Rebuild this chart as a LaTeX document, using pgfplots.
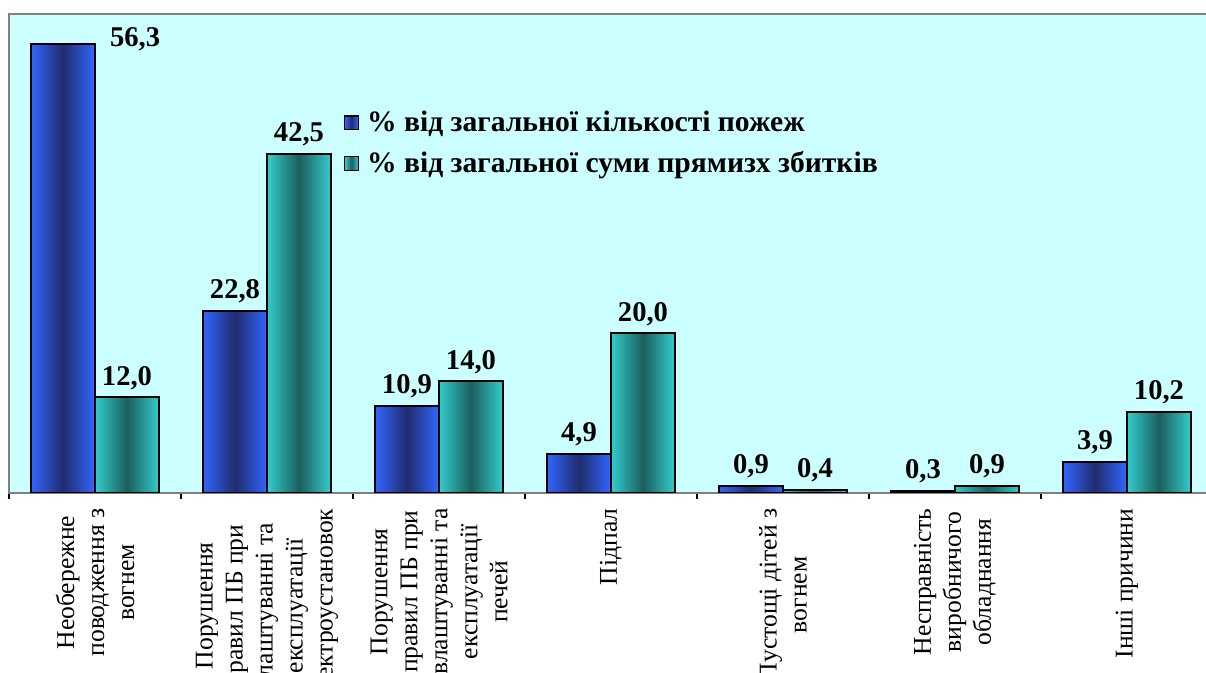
\documentclass[border=0pt]{standalone}
\usepackage{fontspec}
\setmainfont{Liberation Serif}
\usepackage{pgfplots}
\pgfplotsset{compat=1.18}
\definecolor{bg}{HTML}{CCFFFF}
\definecolor{bblue}{HTML}{3366FF}
\definecolor{bdark}{HTML}{1F2C6E}
\definecolor{tteal}{HTML}{33CCCC}
\definecolor{tdark}{HTML}{1C5F5E}
\pgfplotsset{
  bluebar/.style={forget plot, draw=black, line width=1pt, left color=bblue, right color=bblue, middle color=bdark, bar shift=-16pt},
  tealbar/.style={forget plot, draw=black, line width=1pt, left color=tteal, right color=tteal, middle color=tdark, bar shift=16pt},
}
\begin{document}
\begin{tikzpicture}
\useasboundingbox (0,0) rectangle (603pt,336.5pt);
\begin{axis}[
  at={(4.5pt,90pt)}, anchor=south west,
  scale only axis, width=602pt, height=239.5pt,
  xmin=-0.5, xmax=6.5, ymin=0, ymax=60,
  axis background/.style={fill=bg},
  axis line style={draw=gray, line width=1pt},
  ybar, bar width=32pt,
  ytick=\empty,
  xtick={0,...,6},
  major x tick style={draw=none},
  minor xtick={-0.5,0.5,...,6.5},
  minor x tick style={black, line width=0.6pt},
  minor tick length=3pt,
  tick align=outside, xtick pos=bottom,
  xticklabels={{Необережне\\поводження з\\вогнем},
    {Порушення\\правил ПБ при\\влаштуванні та\\експлуатації\\електроустановок},
    {Порушення\\правил ПБ при\\влаштуванні та\\експлуатації\\печей},
    {Підпал},
    {Пустощі дітей з\\вогнем},
    {Несправність\\виробничого\\обладнання},
    {Інші причини}},
  x tick label style={rotate=90, anchor=east, align=center,
    font=\fontsize{12.8pt}{15pt}\selectfont},
  point meta=y,
  nodes near coords={\pgfmathprintnumber[fixed,fixed zerofill,precision=1,use comma,assume math mode=true]{\pgfplotspointmeta}},
  every node near coord/.append style={font=\fontsize{14.3pt}{17pt}\selectfont\bfseries, black},
  legend style={draw=none, fill=none, at={(axis description cs:0.273,0.815)}, anchor=north west,
    font=\fontsize{14.8pt}{17pt}\selectfont\bfseries, row sep=4.5pt},
  legend cell align=left,
]
% % of fires
\addplot[bluebar, nodes near coords=] coordinates {(0,56.3)};
\addplot[bluebar] coordinates {(1,22.8)};
\addplot[bluebar] coordinates {(2,10.9)};
\addplot[bluebar] coordinates {(3,4.9)};
\addplot[bluebar] coordinates {(4,0.9)};
\addplot[bluebar] coordinates {(5,0.3)};
\addplot[bluebar] coordinates {(6,3.9)};
% % of direct losses
\addplot[tealbar] coordinates {(0,12.0)};
\addplot[tealbar] coordinates {(1,42.5)};
\addplot[tealbar] coordinates {(2,14.0)};
\addplot[tealbar] coordinates {(3,20.0)};
\addplot[tealbar] coordinates {(4,0.4)};
\addplot[tealbar] coordinates {(5,0.9)};
\addplot[tealbar] coordinates {(6,10.2)};
\addlegendimage{legend image code/.code={\draw[black, line width=0.6pt, left color=bblue, right color=bblue, middle color=bdark] (0pt,-3.4pt) rectangle (6.8pt,3.4pt); \path (9pt,0pt);}}
\addlegendentry{\% від загальної кількості пожеж}
\addlegendimage{legend image code/.code={\draw[black, line width=0.6pt, left color=tteal, right color=tteal, middle color=tdark] (0pt,-3.4pt) rectangle (6.8pt,3.4pt); \path (9pt,0pt);}}
\addlegendentry{\% від загальної суми прямизх збитків}
\node[font=\fontsize{14.3pt}{17pt}\selectfont\bfseries] at (axis cs:0.233,56.8) {56,3};
\end{axis}
\end{tikzpicture}
\end{document}
